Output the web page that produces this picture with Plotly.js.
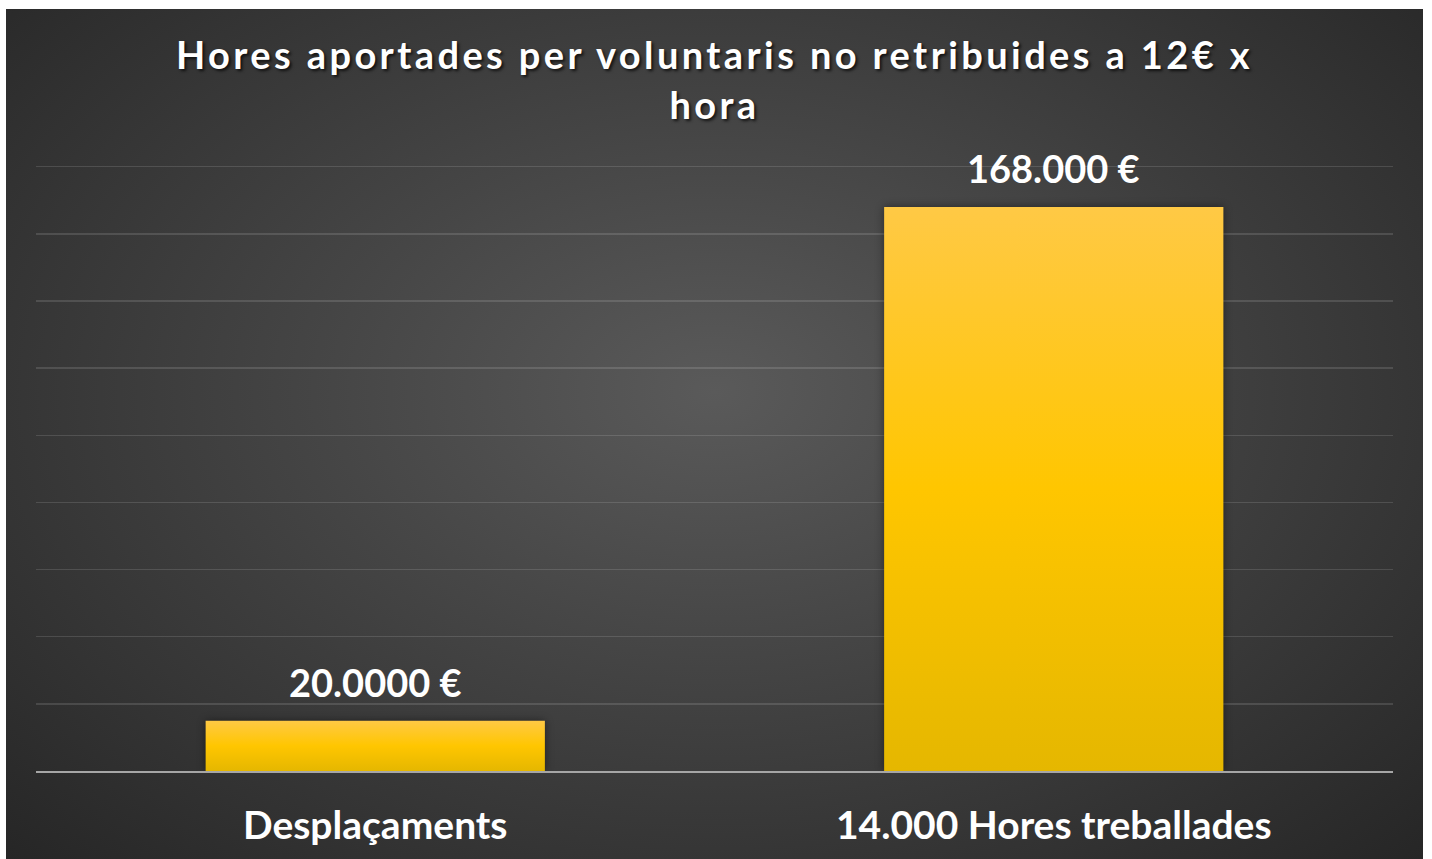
<!DOCTYPE html>
<html>
<head>
<meta charset="utf-8">
<script src="https://cdn.plot.ly/plotly-3.0.1.min.js"></script>
<style>
  html, body { margin: 0; padding: 0; background: #ffffff; width: 1432px; height: 859px; overflow: hidden; }
  #panel {
    position: absolute; left: 6px; top: 9px; width: 1417px; height: 850px;
    background: radial-gradient(ellipse farthest-corner at 50% 45%, #5a5a5a 0%, #454545 40%, #262626 100%);
  }
  #chart { position: absolute; left: 0; top: 0; width: 1417px; height: 850px; }
  .gtitle { letter-spacing: 3.4px; }
</style>
</head>
<body>
<div id="panel"><div id="chart"></div></div>
<script>
const categories = ["Desplaçaments", "14.000 Hores treballades"];
const values = [15000, 168000];
const valueLabels = ["20.0000 €", "168.000 €"];
const titleText = "Hores aportades per voluntaris no retribuides a 12€ x<br>hora";

const fontFamily = "Lato, 'Open Sans', sans-serif";

const trace = {
  type: "bar",
  x: categories,
  y: values,
  marker: { color: "#FFC600", line: { width: 0 } },
  hoverinfo: "skip"
};

const annotations = categories.map(function (c, i) {
  return {
    x: c, y: values[i], xref: "x", yref: "y",
    text: valueLabels[i], showarrow: false,
    xanchor: "center", yanchor: "middle", yshift: 39,
    font: { family: fontFamily, size: 38, color: "#ffffff", weight: 700 }
  };
});

const layout = {
  width: 1417, height: 850,
  paper_bgcolor: "rgba(0,0,0,0)",
  plot_bgcolor: "rgba(0,0,0,0)",
  margin: { l: 30, r: 30, t: 151, b: 88 },
  showlegend: false,
  bargap: 0.5,
  annotations: annotations,
  title: {
    text: titleText,
    font: { family: fontFamily, size: 38, color: "#ffffff", weight: 700, shadow: "2px 2px 3px rgba(0,0,0,0.7)" },
    x: 0.5, xanchor: "center",
    yref: "container", y: 0.929, yanchor: "top"
  },
  xaxis: {
    showline: true, linecolor: "#a6a6a6", linewidth: 2,
    showgrid: false, zeroline: false,
    ticks: "", ticklabelstandoff: 19,
    tickfont: { family: fontFamily, size: 39, color: "#ffffff", weight: 700 }
  },
  yaxis: {
    range: [0, 182000], tick0: 0, dtick: 20000,
    showgrid: true, gridcolor: "rgba(255,255,255,0.13)", gridwidth: 1.5,
    zeroline: false, showticklabels: false, ticks: ""
  }
};

Plotly.newPlot("chart", [trace], layout, { displayModeBar: false, staticPlot: true }).then(function (gd) {
  const svg = gd.querySelector("svg.main-svg");
  const ns = "http://www.w3.org/2000/svg";
  let defs = svg.querySelector("defs");
  if (!defs) { defs = document.createElementNS(ns, "defs"); svg.insertBefore(defs, svg.firstChild); }
  const grad = document.createElementNS(ns, "linearGradient");
  grad.setAttribute("id", "barGrad");
  grad.setAttribute("x1", "0"); grad.setAttribute("y1", "0");
  grad.setAttribute("x2", "0"); grad.setAttribute("y2", "1");
  [["0%", "#FFC945"], ["50%", "#FFC600"], ["100%", "#E5B700"]].forEach(function (s) {
    const st = document.createElementNS(ns, "stop");
    st.setAttribute("offset", s[0]); st.setAttribute("stop-color", s[1]);
    grad.appendChild(st);
  });
  defs.appendChild(grad);
  gd.querySelectorAll(".bars .point path").forEach(function (p) {
    p.style.fill = "url(#barGrad)";
    p.style.filter = "drop-shadow(0px 0px 4px rgba(0,0,0,0.45))";
  });
});
</script>
</body>
</html>
